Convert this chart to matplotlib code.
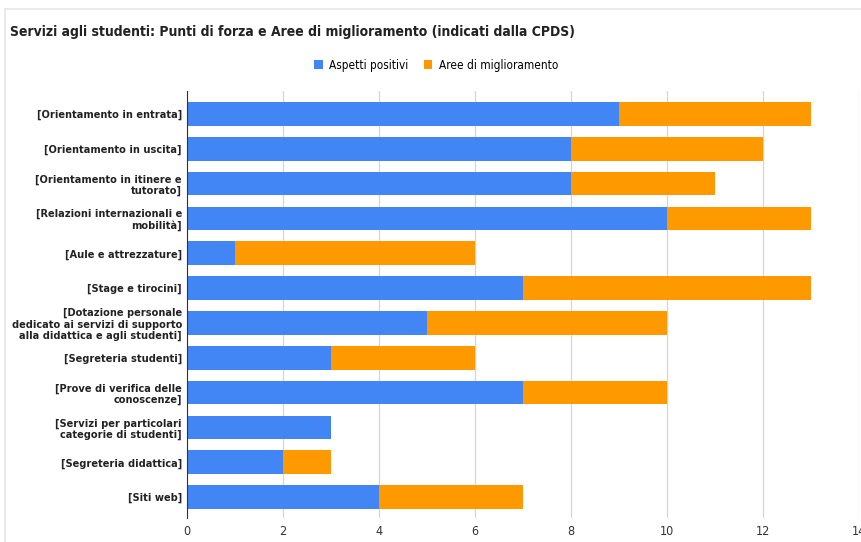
import numpy as np
import matplotlib.pyplot as plt
from matplotlib.lines import Line2D
from matplotlib.patches import Patch

# Servizi agli studenti - conteggi indicati dalla CPDS
categories = [
    "[Orientamento in entrata]",
    "[Orientamento in uscita]",
    "[Orientamento in itinere e\ntutorato]",
    "[Relazioni internazionali e\nmobilità]",
    "[Aule e attrezzature]",
    "[Stage e tirocini]",
    "[Dotazione personale\ndedicato ai servizi di supporto\nalla didattica e agli studenti]",
    "[Segreteria studenti]",
    "[Prove di verifica delle\nconoscenze]",
    "[Servizi per particolari\ncategorie di studenti]",
    "[Segreteria didattica]",
    "[Siti web]",
]
positivi = [9, 8, 8, 10, 1, 7, 5, 3, 7, 3, 2, 4]
miglioramento = [4, 4, 3, 3, 5, 6, 5, 3, 3, 0, 1, 3]
xticks = [0, 2, 4, 6, 8, 10, 12, 14]

BLUE = "#4285f4"
ORANGE = "#ff9900"

plt.rcParams['font.family'] = ['DejaVu Sans']

fig = plt.figure(figsize=(8.62, 5.42), dpi=100)
# asse: da y=91 a y=518 px, x=0 a 187 px, x=14 a 859 px
ax = fig.add_axes([187 / 862, 24 / 542, 672 / 862, 427 / 542])

y = np.arange(len(categories))
ax.barh(y, positivi, height=0.68, color=BLUE, zorder=3)
ax.barh(y, miglioramento, left=positivi, height=0.68, color=ORANGE, zorder=3)

ax.set_xlim(0, 14)
ax.set_ylim(len(categories) - 0.5 + 0.1, -0.5 - 0.16)
ax.set_xticks(xticks)
ax.set_xticklabels([str(t) for t in xticks], fontsize=9, color="#333333",
                   fontstretch='condensed')
ax.set_yticks(y)
ax.set_yticklabels(categories, fontsize=7.1, fontweight='bold', color="#222222",
                   linespacing=1.15)
ax.tick_params(axis='x', length=0, pad=5)
ax.tick_params(axis='y', length=0, pad=3.6)

ax.grid(axis='x', color="#d6d6d6", linewidth=0.9, zorder=0)
for s in ['top', 'right', 'bottom']:
    ax.spines[s].set_visible(False)
ax.spines['left'].set_color("#333333")
ax.spines['left'].set_zorder(4)

fig.text(10 / 862, 1 - 32 / 542,
         "Servizi agli studenti: Punti di forza e Aree di miglioramento (indicati dalla CPDS)",
         fontsize=10, fontweight='bold', color="#222222", va='center',
         fontstretch='condensed')

handles = [Patch(facecolor=BLUE), Patch(facecolor=ORANGE)]
fig.legend(handles, ["Aspetti positivi", "Aree di miglioramento"],
           loc='center', bbox_to_anchor=(436 / 862, 1 - 65 / 542), ncol=2,
           frameon=False, prop={'size': 8.5, 'stretch': 'condensed'},
           handlelength=0.75, handleheight=0.9, columnspacing=1.3,
           handletextpad=0.55)

# cornice grigia chiara
fig.add_artist(Line2D([5 / 862, 1.0], [1 - 9 / 542, 1 - 9 / 542], color="#e6e6e6", linewidth=1.2))
fig.add_artist(Line2D([5 / 862, 5 / 862], [0.0, 1 - 9 / 542], color="#e6e6e6", linewidth=1.2))

fig.savefig("out.png", dpi=100)
